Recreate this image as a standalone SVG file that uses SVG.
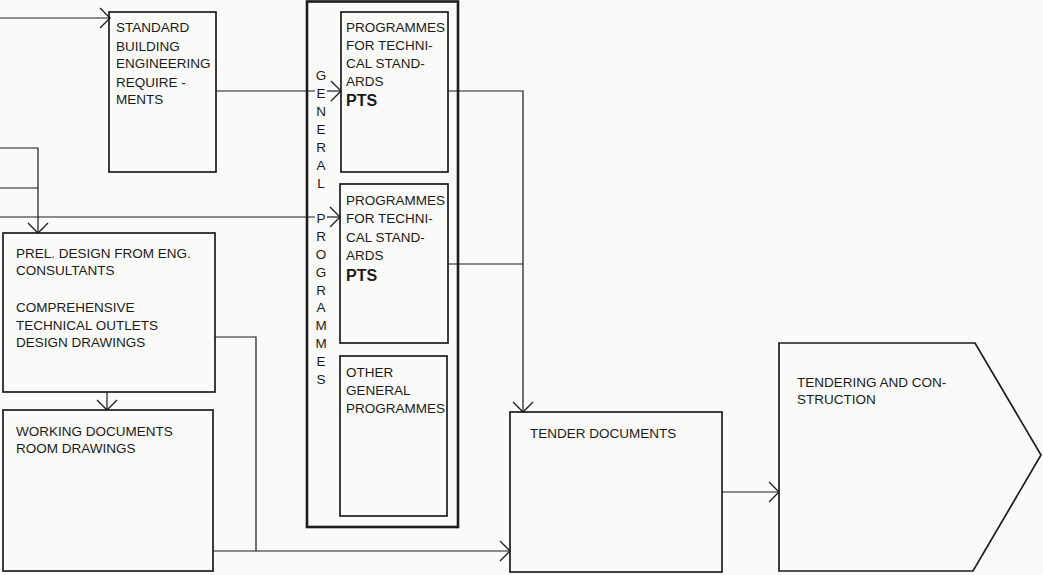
<svg xmlns="http://www.w3.org/2000/svg" width="1043" height="575" viewBox="0 0 1043 575">
<defs>
<marker id="arr" markerUnits="userSpaceOnUse" markerWidth="24" markerHeight="24" refX="0" refY="0" viewBox="-12 -12 24 24" orient="auto" overflow="visible">
<path d="M-10,-10 L0,0 L-10,10" fill="none" stroke="#1c1c1c" stroke-width="1.3"/>
</marker>
</defs>
<style>
.box{fill:none;stroke:#1c1c1c;stroke-width:1.7}
.outer{fill:none;stroke:#1c1c1c;stroke-width:2.6}
.ln{fill:none;stroke:#1c1c1c;stroke-width:1.2}
.t{font-family:"Liberation Sans",Arial,sans-serif;font-size:13.5px;fill:#1a1a1a}
.b{font-family:"Liberation Sans",Arial,sans-serif;font-size:16px;font-weight:bold;fill:#1a1a1a}
.v{font-family:"Liberation Sans",Arial,sans-serif;font-size:13.5px;fill:#1a1a1a;text-anchor:middle}
</style>
<rect x="0" y="0" width="1043" height="575" fill="#fafaf8"/>

<g id="connectors">
<path class="ln" d="M0,18 H110" marker-end="url(#arr)"/>
<path class="ln" d="M0,148 H38 V233" marker-end="url(#arr)"/>
<path class="ln" d="M0,188 H38"/>
<path class="ln" d="M0,217 H315"/>
<path class="ln" d="M327,217 H340" marker-end="url(#arr)"/>
<path class="ln" d="M216,91 H315"/>
<path class="ln" d="M327,91 H341" marker-end="url(#arr)"/>
<path class="ln" d="M448,91 H523 V412" marker-end="url(#arr)"/>
<path class="ln" d="M448,264 H523"/>
<path class="ln" d="M107,392 V410" marker-end="url(#arr)"/>
<path class="ln" d="M215,337 H256 V551"/>
<path class="ln" d="M213,551 H510" marker-end="url(#arr)"/>
<path class="ln" d="M722,492 H779" marker-end="url(#arr)"/>
</g>

<g id="standard">
<rect class="box" x="109" y="12" width="107" height="160"/>
<text class="t" x="116" y="32">STANDARD</text>
<text class="t" x="116" y="51">BUILDING</text>
<text class="t" x="116" y="68">ENGINEERING</text>
<text class="t" x="116" y="87">REQUIRE -</text>
<text class="t" x="116" y="104">MENTS</text>
</g>

<g id="general-programmes">
<rect class="outer" x="307" y="1.5" width="151" height="525.5"/>
<text class="v" x="321" y="80">G</text>
<text class="v" x="321" y="98">E</text>
<text class="v" x="321" y="116">N</text>
<text class="v" x="321" y="134">E</text>
<text class="v" x="321" y="152">R</text>
<text class="v" x="321" y="170">A</text>
<text class="v" x="321" y="188">L</text>
<text class="v" x="321" y="223">P</text>
<text class="v" x="321" y="241">R</text>
<text class="v" x="321" y="259">O</text>
<text class="v" x="321" y="277">G</text>
<text class="v" x="321" y="295">R</text>
<text class="v" x="321" y="312">A</text>
<text class="v" x="321" y="330">M</text>
<text class="v" x="321" y="348">M</text>
<text class="v" x="321" y="366">E</text>
<text class="v" x="321" y="384">S</text>
</g>

<g id="pts1">
<rect class="box" x="341" y="12" width="107" height="160"/>
<text class="t" x="346" y="32">PROGRAMMES</text>
<text class="t" x="346" y="50">FOR TECHNI-</text>
<text class="t" x="346" y="68">CAL STAND-</text>
<text class="t" x="346" y="86">ARDS</text>
<text class="b" x="346" y="106">PTS</text>
</g>

<g id="pts2">
<rect class="box" x="340" y="184" width="108" height="159"/>
<text class="t" x="346" y="205">PROGRAMMES</text>
<text class="t" x="346" y="223">FOR TECHNI-</text>
<text class="t" x="346" y="242">CAL STAND-</text>
<text class="t" x="346" y="260">ARDS</text>
<text class="b" x="346" y="281">PTS</text>
</g>

<g id="other">
<rect class="box" x="340" y="356" width="107" height="160"/>
<text class="t" x="346" y="377">OTHER</text>
<text class="t" x="346" y="395">GENERAL</text>
<text class="t" x="346" y="413">PROGRAMMES</text>
</g>

<g id="prel-design">
<rect class="box" x="3" y="233" width="212" height="159"/>
<text class="t" x="16" y="258">PREL. DESIGN FROM ENG.</text>
<text class="t" x="16" y="275">CONSULTANTS</text>
<text class="t" x="16" y="312">COMPREHENSIVE</text>
<text class="t" x="16" y="330">TECHNICAL OUTLETS</text>
<text class="t" x="16" y="347">DESIGN DRAWINGS</text>
</g>

<g id="working-documents">
<rect class="box" x="3" y="410" width="210" height="161"/>
<text class="t" x="16" y="436">WORKING DOCUMENTS</text>
<text class="t" x="16" y="453">ROOM DRAWINGS</text>
</g>

<g id="tender-documents">
<rect class="box" x="510" y="412" width="212" height="160"/>
<text class="t" x="530" y="438">TENDER DOCUMENTS</text>
</g>

<g id="tendering">
<polygon class="box" points="779,343 975,343 1041,455 973,571 779,571"/>
<text class="t" x="797" y="387">TENDERING AND CON-</text>
<text class="t" x="797" y="404">STRUCTION</text>
</g>
</svg>
